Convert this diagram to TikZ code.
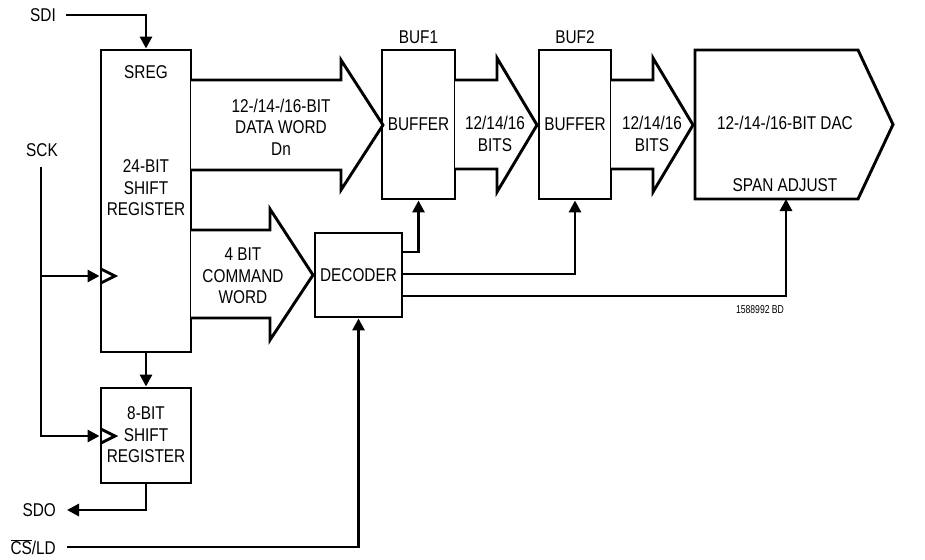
\documentclass[tikz,border=0pt]{standalone}
\usepackage{fontspec}
\setmainfont{Liberation Sans}[FakeStretch=0.83]
\usetikzlibrary{arrows.meta}
\begin{document}
\begin{tikzpicture}[x=1pt,y=-1pt,
  wire/.style={line width=2.9pt},
  arr/.style={wire,-{Triangle[length=12pt,width=12pt]}},
  blk/.style={draw,line width=2.9pt,inner sep=0pt},
  txt/.style={inner sep=0pt,align=center,font=\fontsize{18.5}{21.5}\selectfont},
  lbl/.style={txt,anchor=east},
  bus/.style={line width=2.9pt,line join=miter,fill=white}]
\useasboundingbox (0,0) rectangle (925,559);
% blocks
\node[blk,minimum width=90pt,minimum height=302pt] (sreg) at (146,201) {};
\node[blk,minimum width=90pt,minimum height=95pt] (sr8) at (146,435.5) {};
\node[blk,minimum width=87pt,minimum height=84pt] (dec) at (358.5,275) {};
\node[blk,minimum width=73pt,minimum height=149pt] (buf1) at (418.5,124.5) {};
\node[blk,minimum width=72pt,minimum height=149pt] (buf2) at (575,124.5) {};
\draw[bus] (695,50) -- (858,50) -- (893,124.5) -- (858,199) -- (695,199) -- cycle;
\coordinate (dacb) at (786,199);
% bus arrows
\draw[bus] (191,80) -- (341,80) -- (341,60) -- (383,125) -- (341,190) -- (341,170) -- (191,170);
\draw[bus] (455,80) -- (497,80) -- (497,58) -- (537,125) -- (497,192) -- (497,169) -- (455,169);
\draw[bus] (611,80) -- (653,80) -- (653,58) -- (693,125) -- (653,192) -- (653,169) -- (611,169);
\draw[bus] (191,230) -- (270,230) -- (270,209) -- (313,275) -- (270,340) -- (270,318) -- (191,318);
% clock marks
\draw[wire,line join=miter] (101,269) -- (115,276) -- (101,283);
\draw[wire,line join=miter] (101,429) -- (115,436) -- (101,443);
% texts
\node[txt] (tsreg) at (146,72) {SREG};
\node[txt] (tsreg2) at (146,188) {24-BIT\\SHIFT\\REGISTER};
\node[txt] (tsr8) at (146,435) {8-BIT\\SHIFT\\REGISTER};
\node[txt] (tdata) at (281,127) {12-/14-/16-BIT\\DATA WORD\\Dn};
\node[txt] (tcmd) at (243,276) {4 BIT\\COMMAND\\WORD};
\node[txt] at (dec) {DECODER};
\node[txt] at (buf1) {BUFFER};
\node[txt] at (buf2) {BUFFER};
\node[txt] (tb1) at (418.5,37) {BUF1};
\node[txt] (tb2) at (575,37) {BUF2};
\node[txt] (tbits1) at (495,134) {12/14/16\\BITS};
\node[txt] (tbits2) at (652,134) {12/14/16\\BITS};
\node[txt] (dac) at (785,123) {12-/14-/16-BIT DAC};
\node[txt] (span) at (785,185) {SPAN ADJUST};
\node[inner sep=0pt,font=\fontsize{11.5}{13}\selectfont\addfontfeature{FakeStretch=0.75}] (code) at (760,310) {1588992 BD};
% pin labels
\node[lbl] (sdi) at (56,15) {SDI};
\node[txt] (sck) at (42,150) {SCK};
\node[lbl] (sdo) at (56,510) {SDO};
\node[lbl] (csl) at (56,547) {$\overline{\mbox{CS}}$/LD};
% connectors
\draw[arr] ([xshift=10pt]sdi.east) -| (sreg.north);
\coordinate (ckj) at (41,276);
\coordinate (ckt) at (41,167);
\draw[arr] (ckt) |- (sr8.west |- 0,436);
\draw[arr] (ckj) -- (sreg.west |- ckj);
\draw[arr] (sreg.south) -- (sr8.north);
\draw[arr] (sr8.south) |- ([xshift=11pt]sdo.east);
\draw[arr] ([xshift=11pt]csl.east) -| (dec.south);
\draw[arr] (dec.east |- 0,252) -| (buf1.south);
\draw[arr] (dec.east |- 0,274) -| (buf2.south);
\draw[arr] (dec.east |- 0,296) -| (dacb);
\end{tikzpicture}
\end{document}
